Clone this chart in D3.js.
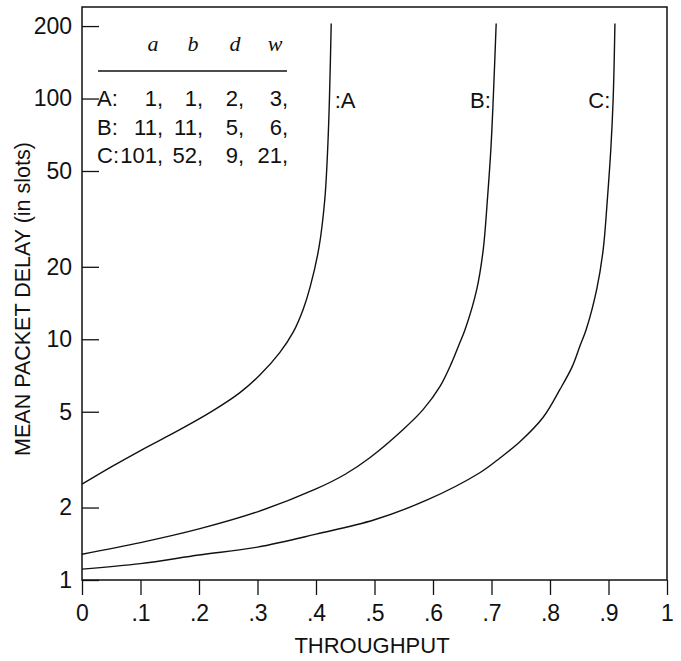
<!DOCTYPE html>
<html>
<head>
<meta charset="utf-8">
<script src="https://cdn.jsdelivr.net/npm/d3@7"></script>
<style>
body { margin: 0; background: #fff; }
text { font-family: "Liberation Sans", Arial, sans-serif; fill: #111; }
</style>
</head>
<body>
<div id="chart"></div>
<script>
// throughput / mean delay pairs
var curveA = [[0,2.5],[0.05,2.95],[0.1,3.45],[0.168,4.22],[0.224,5.05],[0.27,6.0],[0.304,7.1],[0.338,8.8],[0.361,10.7],[0.378,13.3],[0.39,16.5],[0.405,24],[0.415,38],[0.42,62],[0.423,100],[0.426,205]];
var curveB = [[0,1.28],[0.1,1.43],[0.2,1.63],[0.3,1.92],[0.4,2.39],[0.45,2.75],[0.492,3.22],[0.549,4.22],[0.583,5.1],[0.612,6.37],[0.632,8.0],[0.646,9.7],[0.655,11],[0.675,16.2],[0.686,23.7],[0.693,38],[0.699,62],[0.703,100],[0.708,205]];
var curveC = [[0,1.11],[0.1,1.17],[0.2,1.27],[0.3,1.37],[0.4,1.55],[0.5,1.78],[0.59,2.15],[0.68,2.79],[0.715,3.22],[0.749,3.76],[0.788,4.73],[0.817,6.19],[0.838,7.7],[0.851,9.35],[0.862,11],[0.88,16.2],[0.891,23.7],[0.898,38],[0.904,62],[0.908,100],[0.911,205]];

var xTicks = [0,0.1,0.2,0.3,0.4,0.5,0.6,0.7,0.8,0.9,1];
var xTickLabels = ["0",".1",".2",".3",".4",".5",".6",".7",".8",".9","1"];
var yTicks = [1,2,5,10,20,50,100,200];

// parameter table
var paramHeads = ["a","b","d","w"];
var paramRows = ["A:","B:","C:"];
var paramVals = [[1,1,2,3],[11,11,5,6],[101,52,9,21]];

var W = 681, H = 661;
var svg = d3.select("#chart").append("svg")
	.attr("width", W)
	.attr("height", H);

var x = d3.scaleLinear().domain([0,1]).range([82,667]);
var y = d3.scaleLog().domain([1,240]).range([580,7]);

// frame
svg.append("rect")
	.attr("x", x(0)).attr("y", y(240))
	.attr("width", x(1)-x(0)).attr("height", y(1)-y(240))
	.attr("fill","none").attr("stroke","#111").attr("stroke-width",1.5);

// x axis, ticks pointing out
var xAxis = d3.axisBottom(x).tickValues(xTicks)
	.tickFormat(function(d,i){ return xTickLabels[i]; })
	.tickSize(15).tickPadding(10);
var gx = svg.append("g").attr("transform","translate(0,"+y(1)+")").call(xAxis);
gx.select(".domain").remove();
gx.selectAll("line").attr("stroke","#111").attr("stroke-width",1.3);
gx.selectAll("text").style("font-size","23px").style("font-family","Liberation Sans, Arial, sans-serif").attr("fill","#111");

// y axis, ticks pointing in
var yAxis = d3.axisLeft(y).tickValues(yTicks)
	.tickFormat(d3.format("d"))
	.tickSizeInner(-17).tickSizeOuter(0).tickPadding(10);
var gy = svg.append("g").attr("transform","translate("+x(0)+",0)").call(yAxis);
gy.select(".domain").remove();
gy.selectAll("line").attr("stroke","#111").attr("stroke-width",1.3);
gy.selectAll("text").style("font-size","23px").style("font-family","Liberation Sans, Arial, sans-serif").attr("fill","#111");

// axis titles
svg.append("text")
	.attr("x", 372).attr("y", 653)
	.attr("text-anchor","middle")
	.style("font-size","22px")
	.text("THROUGHPUT");

svg.append("text")
	.attr("transform","translate(30,299) rotate(-90)")
	.attr("text-anchor","middle")
	.style("font-size","21.5px")
	.text("MEAN PACKET DELAY (in slots)");

// curves
var line = d3.line()
	.x(function(d){ return x(d[0]); })
	.y(function(d){ return y(d[1]); })
	.curve(d3.curveCatmullRom.alpha(0.5));

[curveA, curveB, curveC].forEach(function(c){
	svg.append("path")
		.datum(c)
		.attr("d", line)
		.attr("fill","none")
		.attr("stroke","#111")
		.attr("stroke-width",1.4);
});

// curve labels
svg.append("text").attr("x", x(0.432)).attr("y", y(100)+9).style("font-size","22px").text(":A");
svg.append("text").attr("x", x(0.699)).attr("y", y(100)+9).attr("text-anchor","end").style("font-size","22px").text("B:");
svg.append("text").attr("x", x(0.903)).attr("y", y(100)+9).attr("text-anchor","end").style("font-size","22px").text("C:");

// parameter table
var colRight = [163, 203, 244, 288];
var headX = [153, 193, 235, 275];
var tbl = svg.append("g");
tbl.selectAll(".head")
	.data(paramHeads)
	.enter().append("text")
	.attr("class","head")
	.attr("x", function(d,i){ return headX[i]; })
	.attr("y", 51)
	.attr("text-anchor","middle")
	.style("font-family","Liberation Serif, Times New Roman, serif")
	.style("font-style","italic")
	.style("font-size","22px")
	.text(function(d){ return d; });

tbl.append("line")
	.attr("x1", 98).attr("x2", 287)
	.attr("y1", 71).attr("y2", 71)
	.attr("stroke","#111").attr("stroke-width",1.5);

paramRows.forEach(function(r, ri){
	var yy = 106 + ri*28.5;
	tbl.append("text").attr("x", 97).attr("y", yy).style("font-size","22px").text(r);
	paramVals[ri].forEach(function(v, ci){
		tbl.append("text")
			.attr("x", colRight[ci]).attr("y", yy)
			.attr("text-anchor","end")
			.style("font-size","22px")
			.text(v + ",");
	});
});
</script>
</body>
</html>
